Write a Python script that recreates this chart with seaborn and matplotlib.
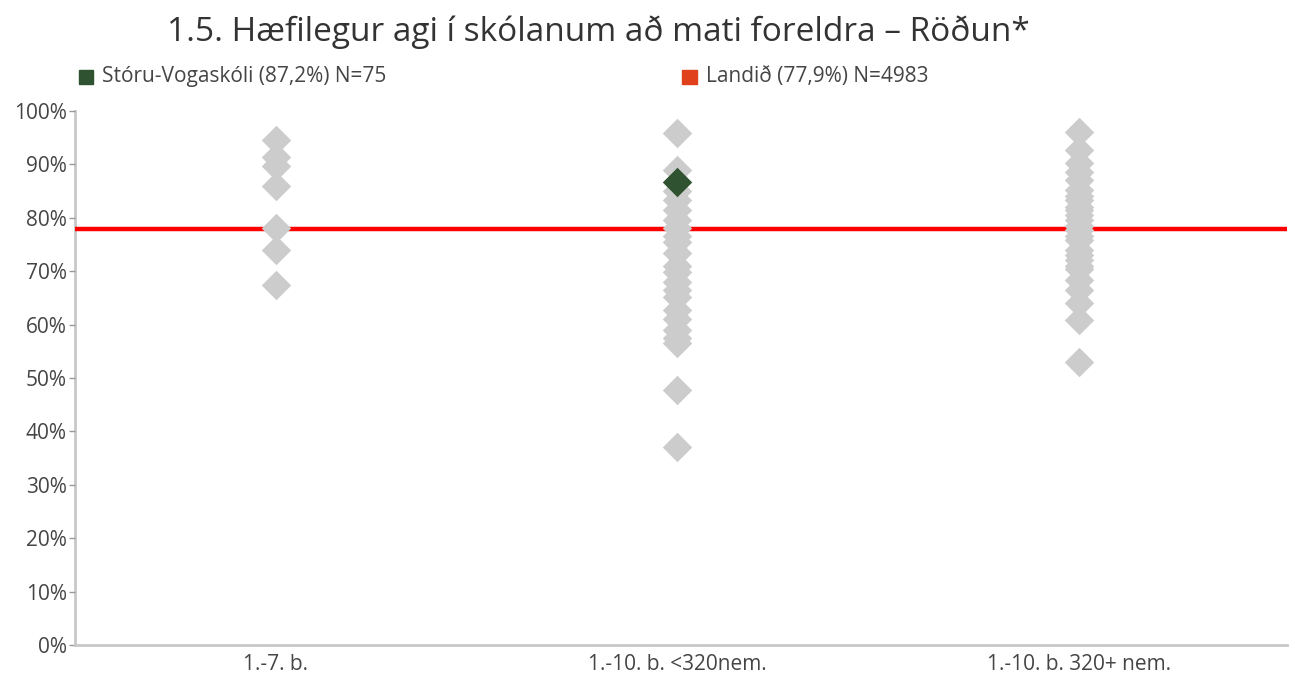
import matplotlib
matplotlib.use("Agg")
import matplotlib.pyplot as plt
import pandas as pd
import seaborn as sns
from matplotlib.patches import Rectangle

# Gögn lesin af myndinni (%)
categories = ["1.-7. b.", "1.-10. b. <320nem.", "1.-10. b. 320+ nem."]
vals_small = [94.6, 91.4, 89.7, 86.0, 78.1, 74.0, 67.4]
vals_mid = [95.9, 89.0, 85.0, 83.3, 81.5, 79.6, 78.0, 76.5, 75.4, 73.4,
            71.0, 69.8, 68.0, 66.5, 65.2, 62.8, 61.0, 59.0, 57.5, 56.6,
            47.7, 37.1]
vals_large = [96.1, 92.7, 90.3, 88.6, 87.1, 85.2, 84.0, 83.3, 82.0, 81.5,
              80.5, 79.6, 78.5, 77.7, 76.5, 75.8, 74.0, 73.0, 72.1, 71.0,
              70.3, 68.4, 66.5, 64.0, 60.9, 53.0]
school_name = "Stóru-Vogaskóli (87,2%) N=75"
school_cat = categories[1]
school_val = 86.6
national_name = "Landið (77,9%) N=4983"
national_val = 77.9

df = pd.DataFrame({
    "hopur": [categories[0]] * len(vals_small)
    + [categories[1]] * len(vals_mid)
    + [categories[2]] * len(vals_large),
    "hlutfall": vals_small + vals_mid + vals_large,
})
school = pd.DataFrame({"hopur": [school_cat], "hlutfall": [school_val]})

sns.set_theme(style="white")
plt.rcParams["font.family"] = ["Open Sans", "DejaVu Sans"]
text_col = "#454545"

fig = plt.figure(figsize=(12.95, 6.75), dpi=100)
ax = fig.add_axes([0.058, 0.044, 0.936, 0.792])

ax.axhline(national_val, color="#ff0000", lw=3.2, zorder=1)
sns.stripplot(data=df, x="hopur", y="hlutfall", order=categories,
              jitter=False, marker="D", size=15, color="#cccccc",
              linewidth=0, ax=ax, zorder=3)
sns.stripplot(data=school, x="hopur", y="hlutfall", order=categories,
              jitter=False, marker="D", size=15, color="#2f5230",
              linewidth=0, ax=ax, zorder=4)

ax.set_xlim(-0.5, 2.52)
ax.set_ylim(0, 100)
ax.set_yticks(range(0, 101, 10))
ax.set_yticklabels([f"{v}%" for v in range(0, 101, 10)])
ax.set_xlabel("")
ax.set_ylabel("")
ax.tick_params(axis="y", length=4, width=1, color="#999999", left=True,
               labelsize=15, labelcolor=text_col, pad=2)
ax.tick_params(axis="x", length=0, labelsize=15, labelcolor=text_col, pad=6)
for side in ["top", "right"]:
    ax.spines[side].set_visible(False)
for side in ["left", "bottom"]:
    ax.spines[side].set_color("#c8c8c8")
    ax.spines[side].set_linewidth(2)
ax.spines["left"].set_zorder(0)

fig.text(0.462, 0.953, "1.5. Hæfilegur agi í skólanum að mati foreldra – Röðun*",
         ha="center", va="center", fontsize=24, color="#333333")

# Skýringar
fig.patches.append(Rectangle((0.061, 0.876), 0.011, 0.021, transform=fig.transFigure,
                             color="#2f5230", figure=fig))
fig.text(0.079, 0.887, school_name, ha="left", va="center", fontsize=15,
         color=text_col)
fig.patches.append(Rectangle((0.527, 0.876), 0.011, 0.021, transform=fig.transFigure,
                             color="#e0401c", figure=fig))
fig.text(0.545, 0.887, national_name, ha="left", va="center", fontsize=15,
         color=text_col)

fig.savefig("out.png", dpi=100)
